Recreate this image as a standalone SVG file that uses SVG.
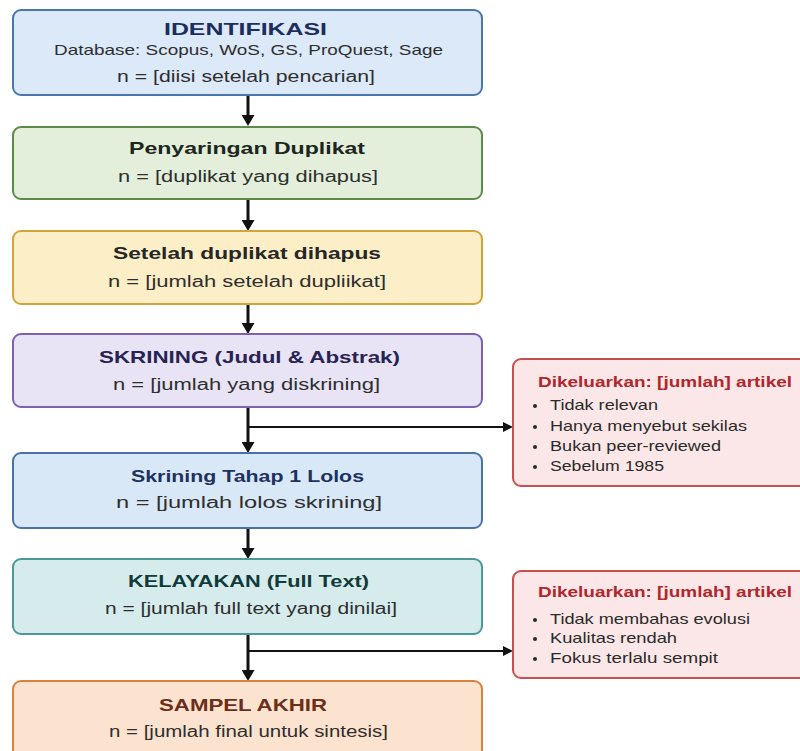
<svg xmlns="http://www.w3.org/2000/svg" width="800" height="751" viewBox="0 0 800 751">
<defs>
<style>
.box{stroke-width:2}
.t{font-family:"Liberation Sans",Arial,sans-serif;font-weight:bold;font-size:17px}
.s{font-family:"Liberation Sans",Arial,sans-serif;font-size:16px;fill:#2e2e2e}
.d{font-family:"Liberation Sans",Arial,sans-serif;font-size:15px;fill:#2e2e2e}
.et{font-family:"Liberation Sans",Arial,sans-serif;font-weight:bold;font-size:14.5px;fill:#b0262c}
.b{font-family:"Liberation Sans",Arial,sans-serif;font-size:14.5px;fill:#2a2a2a}
.v{stroke:#111;stroke-width:3;fill:none}
.h{stroke:#111;stroke-width:2;fill:none}
</style>
<marker id="ah" viewBox="0 0 11 13" refX="4" refY="6.5" markerWidth="11" markerHeight="13" markerUnits="userSpaceOnUse" orient="auto">
<path d="M0,0 L11,6.5 L0,13 z" fill="#111"/>
</marker>
<marker id="ah2" viewBox="0 0 10 10" refX="4" refY="5" markerWidth="10" markerHeight="10" markerUnits="userSpaceOnUse" orient="auto">
<path d="M0,0 L10,5 L0,10 z" fill="#111"/>
</marker>
</defs>
<rect width="800" height="751" fill="#ffffff"/>

<g id="connectors">
<line class="v" x1="248" y1="96" x2="248" y2="119" marker-end="url(#ah)"/>
<line class="v" x1="248" y1="200" x2="248" y2="224" marker-end="url(#ah)"/>
<line class="v" x1="248" y1="305" x2="248" y2="327" marker-end="url(#ah)"/>
<line class="v" x1="248" y1="408" x2="248" y2="446" marker-end="url(#ah)"/>
<line class="v" x1="248" y1="529" x2="248" y2="552" marker-end="url(#ah)"/>
<line class="v" x1="248" y1="635" x2="248" y2="674" marker-end="url(#ah)"/>
<line class="h" x1="248" y1="427" x2="507" y2="427" marker-end="url(#ah2)"/>
<line class="h" x1="248" y1="651" x2="507" y2="651" marker-end="url(#ah2)"/>
</g>

<g id="identifikasi">
<rect class="box" x="13" y="10" width="469" height="85" rx="8" fill="#dce9f8" stroke="#4a76b0"/>
<text class="t" x="164" y="35" textLength="163" lengthAdjust="spacingAndGlyphs" fill="#1d2d5c">IDENTIFIKASI</text>
<text class="d" x="54" y="55" textLength="389" lengthAdjust="spacingAndGlyphs">Database: Scopus, WoS, GS, ProQuest, Sage</text>
<text class="s" x="117" y="82" textLength="258" lengthAdjust="spacingAndGlyphs">n = [diisi setelah pencarian]</text>
</g>

<g id="duplikat">
<rect class="box" x="13" y="127" width="469" height="72" rx="8" fill="#e3efdb" stroke="#5b8b4a"/>
<text class="t" x="129" y="154" textLength="236" lengthAdjust="spacingAndGlyphs" fill="#1e261c">Penyaringan Duplikat</text>
<text class="s" x="118" y="182" textLength="260" lengthAdjust="spacingAndGlyphs">n = [duplikat yang dihapus]</text>
</g>

<g id="setelah">
<rect class="box" x="13" y="231" width="469" height="73" rx="8" fill="#fcefc8" stroke="#d3a43a"/>
<text class="t" x="113" y="259" textLength="268" lengthAdjust="spacingAndGlyphs" fill="#262626">Setelah duplikat dihapus</text>
<text class="s" x="108" y="287" textLength="278" lengthAdjust="spacingAndGlyphs">n = [jumlah setelah dupliikat]</text>
</g>

<g id="skrining">
<rect class="box" x="13" y="334" width="469" height="73" rx="8" fill="#e9e4f5" stroke="#7b60b3"/>
<text class="t" x="99" y="363" textLength="301" lengthAdjust="spacingAndGlyphs" fill="#272454">SKRINING (Judul &amp; Abstrak)</text>
<text class="s" x="113" y="390" textLength="267" lengthAdjust="spacingAndGlyphs">n = [jumlah yang diskrining]</text>
</g>

<g id="lolos">
<rect class="box" x="13" y="453" width="469" height="75" rx="8" fill="#d9e8f7" stroke="#4a72a8"/>
<text class="t" x="131" y="482" textLength="233" lengthAdjust="spacingAndGlyphs" fill="#1e3260">Skrining Tahap 1 Lolos</text>
<text class="s" x="116" y="508" textLength="266" lengthAdjust="spacingAndGlyphs">n = [jumlah lolos skrining]</text>
</g>

<g id="kelayakan">
<rect class="box" x="13" y="559" width="469" height="75" rx="8" fill="#d6ecec" stroke="#4c9898"/>
<text class="t" x="128" y="587" textLength="241" lengthAdjust="spacingAndGlyphs" fill="#113a3a">KELAYAKAN (Full Text)</text>
<text class="s" x="105" y="614" textLength="292" lengthAdjust="spacingAndGlyphs">n = [jumlah full text yang dinilai]</text>
</g>

<g id="sampel">
<rect class="box" x="13" y="681" width="469" height="90" rx="8" fill="#fce3cf" stroke="#d8823c"/>
<text class="t" x="159" y="711" textLength="168" lengthAdjust="spacingAndGlyphs" fill="#6a2e1a">SAMPEL AKHIR</text>
<text class="s" x="109" y="737" textLength="279" lengthAdjust="spacingAndGlyphs">n = [jumlah final untuk sintesis]</text>
</g>

<g id="excluded1">
<rect class="box" x="513" y="359" width="300" height="127" rx="8" fill="#fbe7e7" stroke="#c4504f"/>
<text class="et" x="538" y="387" textLength="254" lengthAdjust="spacingAndGlyphs">Dikeluarkan: [jumlah] artikel</text>
<circle cx="535" cy="406" r="2" fill="#2a2a2a"/>
<text class="b" x="550" y="410" textLength="108" lengthAdjust="spacingAndGlyphs">Tidak relevan</text>
<circle cx="535" cy="427" r="2" fill="#2a2a2a"/>
<text class="b" x="550" y="431" textLength="197" lengthAdjust="spacingAndGlyphs">Hanya menyebut sekilas</text>
<circle cx="535" cy="447" r="2" fill="#2a2a2a"/>
<text class="b" x="550" y="451" textLength="171" lengthAdjust="spacingAndGlyphs">Bukan peer-reviewed</text>
<circle cx="535" cy="467" r="2" fill="#2a2a2a"/>
<text class="b" x="550" y="471" textLength="114" lengthAdjust="spacingAndGlyphs">Sebelum 1985</text>
</g>

<g id="excluded2">
<rect class="box" x="513" y="571" width="300" height="107" rx="8" fill="#fbe7e7" stroke="#c4504f"/>
<text class="et" x="538" y="597" textLength="254" lengthAdjust="spacingAndGlyphs">Dikeluarkan: [jumlah] artikel</text>
<circle cx="535" cy="620" r="2" fill="#2a2a2a"/>
<text class="b" x="550" y="624" textLength="200" lengthAdjust="spacingAndGlyphs">Tidak membahas evolusi</text>
<circle cx="535" cy="639" r="2" fill="#2a2a2a"/>
<text class="b" x="550" y="643" textLength="127" lengthAdjust="spacingAndGlyphs">Kualitas rendah</text>
<circle cx="535" cy="659" r="2" fill="#2a2a2a"/>
<text class="b" x="550" y="663" textLength="168" lengthAdjust="spacingAndGlyphs">Fokus terlalu sempit</text>
</g>
</svg>
